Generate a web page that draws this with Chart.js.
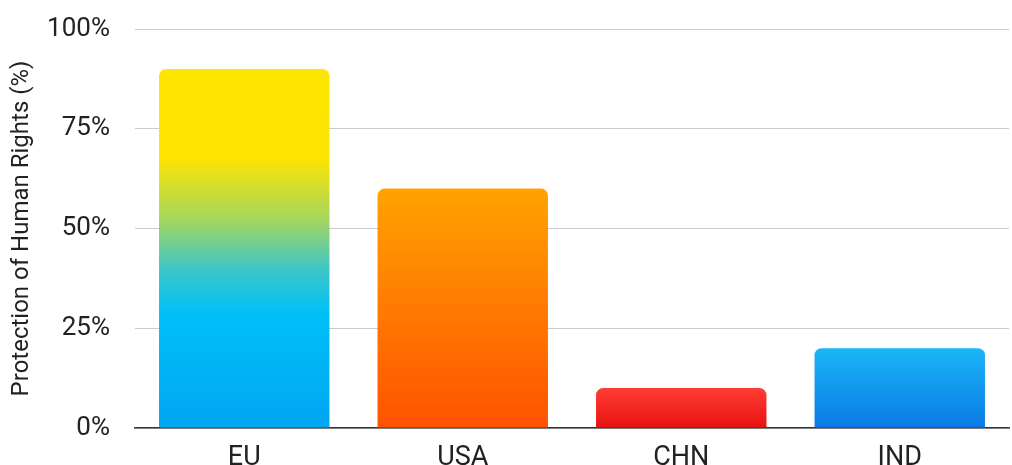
<!DOCTYPE html>
<html lang="en">
<head>
  <meta charset="UTF-8">
  <title>Protection of Human Rights</title>
  <script src="https://cdn.jsdelivr.net/npm/chart.js"></script>
  <style>
    html, body { margin: 0; padding: 0; background: #fff; }
    #wrap { width: 1012px; height: 465px; }
  </style>
</head>
<body>
  <div id="wrap"><canvas id="grafico" width="1012" height="465"></canvas></div>

  <script>
    const categorias = ['EU', 'USA', 'CHN', 'IND'];
    const valores = [90, 60, 10, 20];
    const yTicks = [0, 25, 50, 75, 100];

    // colour stops per bar, top -> bottom
    const degradados = [
      [[0, '#ffe600'], [0.25, '#fde402'], [0.42, '#a4d65e'], [0.56, '#3cc6c8'], [0.68, '#00c0f8'], [1, '#00a6f2']],
      [[0, '#ffa300'], [1, '#ff5200']],
      [[0, '#ff3d33'], [1, '#e81212']],
      [[0, '#1ab6f6'], [1, '#0a7ae6']]
    ];

    const fuente = 'Roboto, "Noto Sans", sans-serif';

    function relleno(ctx) {
      const chart = ctx.chart;
      if (!chart.chartArea) return '#ccc';
      const y = chart.scales.y;
      const top = y.getPixelForValue(valores[ctx.dataIndex]);
      const bottom = y.getPixelForValue(0);
      const g = chart.ctx.createLinearGradient(0, top, 0, bottom);
      degradados[ctx.dataIndex].forEach(s => g.addColorStop(s[0], s[1]));
      return g;
    }

    new Chart(document.getElementById('grafico'), {
      type: 'bar',
      data: {
        labels: categorias,
        datasets: [{
          data: valores,
          backgroundColor: relleno,
          borderRadius: { topLeft: 7, topRight: 7 },
          borderSkipped: 'bottom',
          barPercentage: 0.78,
          categoryPercentage: 1
        }]
      },
      options: {
        responsive: false,
        animation: false,
        layout: { padding: { top: 29, right: 3, left: 0, bottom: 0 } },
        plugins: { legend: { display: false }, tooltip: { enabled: false } },
        scales: {
          x: {
            afterFit: axis => { axis.height = 37; },
            grid: { display: false },
            border: { color: '#333', width: 1.5 },
            ticks: { color: '#222', font: { family: fuente, size: 27 }, padding: 6 }
          },
          y: {
            min: 0, max: 100,
            afterFit: axis => {
              axis.width = 135;
              // tick padding is horizontal only, keep it out of the vertical room
              axis.paddingTop = 15;
              axis.paddingBottom = 15;
            },
            afterBuildTicks: axis => { axis.ticks = yTicks.map(v => ({ value: v })); },
            grid: { color: '#cccccc', lineWidth: 1, drawTicks: false },
            border: { display: false },
            ticks: {
              color: '#222',
              font: { family: fuente, size: 26 },
              padding: 25,
              callback: v => v + '%'
            },
            title: {
              display: true,
              text: 'Protection of Human Rights (%)',
              color: '#222',
              font: { family: fuente, size: 24 },
              padding: { top: 8, bottom: 0 }
            }
          }
        }
      }
    });
  </script>
</body>
</html>
